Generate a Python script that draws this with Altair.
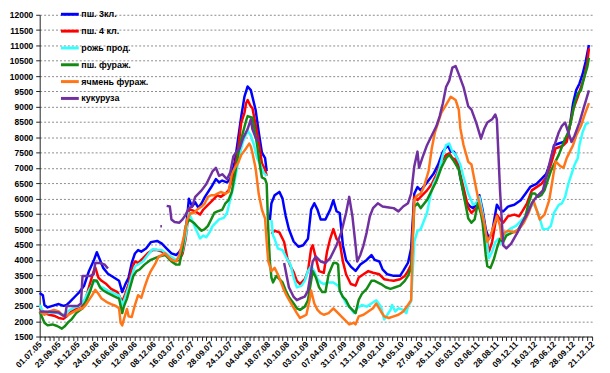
import json
import altair as alt
import pandas as pd

series_names = ["пш. 3кл.", "пш. 4 кл.", "рожь прод.", "пш. фураж.", "ячмень фураж.", "кукуруза"]
series_colors = ["#0000ff", "#ff0000", "#33ffff", "#138a13", "#ff7518", "#7030a0"]

x_labels = ["01.07.05", "23.09.05", "16.12.05", "24.03.06", "16.06.06", "12.09.06", "08.12.06",
            "16.03.07", "06.07.07", "28.09.07", "24.12.07", "04.04.08", "18.07.08", "10.10.08",
            "03.01.09", "07.04.09", "31.07.09", "13.11.09", "19.02.10", "14.05.10", "27.08.10",
            "26.11.10", "05.03.11", "03.06.11", "28.08.11", "09.12.11", "16.03.12", "29.06.12",
            "28.09.12", "21.12.12"]

y_ticks = list(range(1500, 12001, 500))

# week index (category position) and price; None marks a gap in the series
wheat3_x = [0, 2, 3, 5, 8, 12, 15, 17, 19, 22, 25, 28, 31, 34, 36, 38, 40, 43, 47, 50,
            52, 54, 56, 58, 60, 62, 64, 67, 70, 74, 77, 80, 83, 86, 88, 90, 92, 94, 96, 98,
            100, 102, 104, 108, 111, 113, 115, 118, 120, 123, 125, 127, 129, 131, 133, 134, 136, 138, 140, 142,
            143, None,
            145, 146, 148, 151, 153, 154, 155, 157, 160, 163, 166, 169, 171, 173, 175, 177, 180, 183, 185, 187,
            189, 191, 193, 196, 199, 202, 206, 209, 211, 214, 216, 219, 223, 227, 229, 232, 234, 236, 238, 240,
            244, 248, 251, 254, 257, 259, 261, 263, 265, 268, 271, 273, 275, 277, 279, 281, 283, 285, 288, 290,
            292, 295, 299, 303, 306, 309, 313, 316, 319, 322, 324, 327, 330, 332, 334, 336, 338, 340, 342, 344,
            346]
wheat3_y = [2920, 2850, 2530, 2450, 2500, 2560, 2500, 2530, 2630, 2790, 2950, 3160, 3630, 3970, 4250, 4000, 3740, 3550, 3420, 3320,
            2950, 3210, 3420, 3900, 4210, 4320, 4270, 4370, 4580, 4620, 4530, 4372, 4214, 4160, 4267, 4425, 4900, 6000, 5740, 5880,
            5700, 5850, 6050, 6370, 6640, 6530, 6590, 6530, 6640, 7220, 7950, 8690, 9330, 9660, 9540, 9330, 8900, 8170, 7500, 7320,
            6900, None,
            5300, 5850, 6110, 6220, 6000, 5700, 5430, 5000, 4600, 4430, 4480, 4690, 5640, 5850, 5640, 5320, 5320, 5640, 5950, 5590,
            5530, 4480, 4000, 3780, 3640, 3850, 4000, 4160, 4000, 3950, 3690, 3530, 3480, 3480, 3640, 3900, 4370, 6160, 6380, 6270,
            6530, 6800, 7110, 7530, 7740, 7530, 7530, 7320, 6690, 5950, 5750, 5690, 5800, 6110, 5640, 5000, 4690, 4900, 5800, 5640,
            5580, 5740, 5800, 5950, 6160, 6380, 6480, 6640, 6800, 7220, 7740, 7800, 7850, 7950, 8380, 9110, 9540, 9750, 10060, 10480,
            11010]

wheat4_x = [0, 3, 6, 9, 12, 15, 17, 20, 23, 27, 29, 31, 34, 35, 37, 39, 42, 45, 49, 52,
            54, 56, 58, 60, 62, 65, 68, 71, 74, 77, 80, 83, 86, 88, 90, 92, 94, 95, 98, 101,
            103, 106, 109, 112, 114, 117, 119, 121, 123, 125, 127, 129, 130, 131, 133, 134, 136, 138, 140, 142,
            143, None,
            146, 148, 151, 153, 154, 156, 158, 160, 162, 164, 167, 169, 171, 172, 174, 176, 179, 181, 183, 185,
            187, 189, 191, 193, 196, 199, 201, 204, 207, 210, 214, 217, 220, 223, 227, 230, 232, 234, 236, 238,
            240, 244, 247, 250, 253, 256, 258, 260, 262, 264, 267, 270, 272, 275, 277, 279, 281, 283, 285, 288,
            290, 292, 295, 299, 302, 304, 307, 310, 313, 316, 319, 322, 325, 328, 330, 332, 334, 336, 339, 341,
            343, 345, 346]
wheat4_y = [2420, 2264, 2211, 2180, 2106, 2075, 2158, 2317, 2422, 2528, 2738, 3107, 3634, 3760, 3424, 3318, 3213, 3055, 2949, 2633,
            2897, 3213, 3700, 3950, 3900, 4050, 4214, 4320, 4320, 4270, 4160, 4060, 3980, 4000, 4200, 4700, 5650, 5640, 5584, 5479,
            5637, 5795, 5953, 6111, 6058, 6164, 6269, 6585, 7007, 7639, 8482, 8800, 9115, 9220, 9009, 8957, 8430, 7850, 7150, 6950,
            6744, None,
            4850, 4952, 4900, 4690, 4584, 4060, 3793, 3600, 3318, 3213, 3371, 3635, 4373, 4478, 4057, 3635, 3582, 4267, 4690, 5005,
            4690, 4584, 3951, 3530, 3213, 3160, 3424, 3530, 3635, 3582, 3530, 3371, 3340, 3318, 3371, 3477, 3635, 3846, 6058, 5953,
            6058, 6269, 6480, 6796, 7217, 7428, 7480, 7322, 7270, 7007, 6350, 5700, 5532, 5690, 5953, 5426, 4795, 4267, 4584, 5479,
            5320, 5216, 5426, 5479, 5426, 5584, 5848, 6269, 6375, 6480, 6690, 7112, 7639, 7692, 7744, 7850, 8377, 8904, 9325, 9641,
            9957, 10450, 10900]

rye_x = [0, 2, 5, 8, 11, 14, 16, 19, 22, 25, 28, 31, 34, 36, 38, 40, 43, 47, 50, 52,
         54, 56, 58, 60, 62, 65, 68, 71, 74, 77, 81, 86, 88, 90, 92, 94, 96, 98, 101, 103,
         105, 107, 109, 111, 113, 116, 118, 120, 122, 124, 126, 128, 131, 133, 135, 137, 139, 141, 143, None,
         146, 147, 148, 150, 153, 155, 158, 160, 162, 165, 167, 169, 171, 173, 175, 177, 179, 182, 185, 188,
         190, 193, 196, 198, 200, 203, 206, 209, 212, 215, 217, 219, 221, 222, 224, 226, 229, 231, 232, 234,
         236, 238, 240, 244, 246, 248, 250, 252, 254, 256, 258, 260, 262, 265, 267, 270, 273, 275, 277, 279,
         281, 283, 285, 287, 289, 291, 293, 296, 300, 303, 306, 308, 311, 314, 317, 320, 322, 324, 327, 329,
         331, 333, 335, 337, 339, 340, 342, 344, 346]
rye_y = [2528, 2317, 2264, 2285, 2264, 2211, 2243, 2370, 2454, 2496, 2686, 3002, 3265, 3318, 3128, 3086, 3002, 2897, 2844, 2528,
         2791, 3107, 3476, 3793, 3850, 3950, 4150, 4350, 4330, 4320, 4161, 4004, 4050, 4300, 4800, 5532, 5300, 5050, 4700, 4795,
         4742, 4900, 5110, 5216, 5321, 5374, 5532, 5953, 6374, 6901, 7428, 7850, 8219, 8060, 7744, 7323, 7112, 6850, 6744, None,
         5300, 4795, 4690, 4373, 4320, 4109, 3846, 3424, 3108, 3160, 3318, 3635, 3793, 3635, 3371, 3266, 3213, 3266, 3266, 3160,
         2897, 2580, 2400, 2264, 2422, 2528, 2475, 2580, 2686, 2475, 2054, 2212, 2370, 2528, 2317, 2422, 2370, 2264, 2475, 2650,
         4600, 4950, 5000, 5532, 6058, 6480, 6690, 7007, 7428, 7744, 7797, 7533, 7428, 7112, 6700, 6160, 5800, 5848, 6058, 5532,
         4795, 4056, 4267, 4584, 4690, 4530, 4795, 5005, 5110, 5268, 5426, 5637, 5848, 5532, 5005, 5005, 5110, 5532, 5795, 5848,
         6058, 6480, 6796, 7112, 7323, 7744, 8166, 8430, 8482]

feed_x = [0, 3, 5, 8, 11, 14, 16, 18, 20, 23, 27, 29, 32, 34, 36, 38, 40, 43, 47, 50,
          52, 53, 55, 57, 59, 61, 63, 66, 70, 75, 79, 83, 86, 88, 90, 92, 94, 97, 100, 102,
          104, 106, 108, 110, 112, 115, 117, 119, 121, 123, 125, 127, 130, 131, 134, 135, 137, 139, 140, 142,
          143, 144, 145, 146, 147, 149, 151, 153, 155, 157, 160, 162, 164, 167, 169, 171, 172, 174, 176, 178,
          180, 182, 185, 187, 188, 189, 191, 193, 195, 197, 199, 201, 203, 206, 209, 211, 215, 218, 221, 224,
          227, 230, 232, 234, 236, 238, 240, 244, 247, 250, 253, 256, 258, 261, 264, 267, 270, 272, 274, 276,
          278, 279, 281, 282, 284, 286, 288, 290, 292, 294, 298, 301, 304, 306, 308, 310, 312, 314, 316, 318,
          320, 322, 324, 327, 329, 331, 333, 335, 337, 339, 341, 343, 345, 346]
feed_y = [2317, 1948, 1864, 1895, 1843, 1758, 1843, 1969, 2053, 2264, 2422, 2633, 3002, 3339, 3318, 3107, 3002, 2918, 2812, 2738,
          2264, 2475, 2738, 3107, 3476, 3634, 3688, 3846, 4004, 4109, 4161, 3951, 3846, 3846, 4372, 5110, 5321, 5216, 5050, 4952,
          5005, 5110, 5321, 5532, 5584, 5637, 5848, 5953, 6216, 6796, 7428, 7955, 8535, 8693, 8640, 8377, 7744, 7000, 6691, 6638,
          6480, 5005, 3951, 3424, 3266, 3477, 3371, 3266, 3002, 2791, 2580, 2422, 2370, 2475, 2686, 3318, 3635, 3424, 3108, 2950,
          2950, 3530, 3898, 3898, 3846, 3002, 2791, 2686, 2475, 2370, 2264, 2700, 2896, 3055, 3318, 3318, 3213, 3108, 3055, 3108,
          3160, 3318, 3477, 3740, 5743, 5848, 5690, 5953, 6269, 6585, 7007, 7322, 7428, 7217, 6954, 6150, 5350, 5216, 5320, 5848,
          5500, 5216, 4162, 3793, 3740, 4004, 4373, 4690, 4584, 4795, 4900, 4952, 5216, 5426, 5848, 6164, 6164, 6058, 6111, 6269,
          6585, 6902, 7112, 7428, 7692, 7955, 8166, 8588, 9115, 9430, 9536, 9957, 10300, 10600]

barley_x = [0, 3, 6, 9, 12, 15, 17, 20, 23, 27, 29, 31, 33, 35, 37, 39, 42, 45, 48, 50,
            51, 52, 53, 55, 56, 58, 60, 62, 64, 66, 68, 70, 73, 75, 79, 81, 83, 86, 88, 89,
            91, 93, 95, 97, 99, 102, 104, 106, 108, 110, 112, 114, 117, 119, 121, 123, 125, 127, 130, 132,
            133, 134, 136, 138, 140, 142, 143, 144, 146, 148, 150, 152, 154, 156, 159, 162, 164, 166, 168, 170,
            171, 173, 175, 177, 179, 182, 185, 188, 190, 193, 195, 198, 199, 201, 204, 207, 210, 212, 215, 217,
            220, 223, 226, 229, 232, 234, 235, 236, 238, 240, 242, 245, 247, 249, 251, 253, 256, 259, 262, 264,
            265, 267, 270, 272, 274, 276, 278, 280, 282, 284, 286, 288, 290, 291, 293, 295, 299, 302, 305, 308,
            311, 313, 315, 318, 321, 323, 325, 328, 330, 332, 334, 336, 338, 341, 343, 346]
barley_y = [2317, 2211, 2317, 2370, 2317, 2158, 2180, 2264, 2349, 2422, 2528, 2686, 2844, 3023, 2897, 2738, 2633, 2560, 2496, 2422,
            1948, 1864, 2053, 2400, 2158, 2137, 2528, 2850, 2760, 3100, 3400, 3635, 3898, 4109, 4214, 4109, 4004, 3951, 4161, 4372,
            4794, 5321, 5532, 5530, 5637, 5742, 5847, 6058, 6110, 6110, 6163, 6216, 6163, 6216, 6796, 7007, 7164, 7428, 7639, 7797,
            7700, 7500, 7000, 6150, 5637, 5350, 4584, 3951, 3635, 3740, 3530, 3266, 3002, 2791, 2528, 2264, 2106, 2158, 2211, 2686,
            3002, 2580, 2370, 2264, 2211, 2264, 2422, 2264, 2158, 2000, 1896, 1948, 1896, 2159, 2211, 2317, 2422, 2580, 2317, 2159,
            2106, 2159, 2211, 2317, 2528, 2686, 4583, 5953, 6111, 6164, 6375, 6902, 7639, 8166, 8482, 8799, 9062, 9326, 9220, 8904,
            8300, 7750, 7200, 7112, 6585, 6058, 5637, 5216, 4584, 4795, 5110, 5426, 5110, 4690, 4900, 4952, 4900, 5005, 5216, 5532,
            5953, 5637, 5320, 5479, 5953, 6585, 7217, 7059, 7007, 7323, 7534, 7744, 8060, 8377, 8693, 9115]

corn_x = [0, 6, 12, 14, 16, 17, 20, 24, 26, 27, 29, 32, 34, 35, 38, 41, 43, None,
          76, 77, None,
          80, 82, 83, 85, 88, 90, 92, 94, 96, 98, 102, 105, 107, 109, 111, 113, 115, 118, 120, 122,
          124, 126, 128, 131, 133, 134, 136, 138, None,
          154, 155, 157, 160, 162, 164, 167, 169, 170, 172, 174, 177, 180, 183, 187, 190, 193, 195, 197, 199,
          200, 202, 204, 206, 208, 210, 213, 216, 220, 223, 226, 229, 232, 234, 236, 238, 239, 241, 244, 247,
          250, 252, 254, 256, 258, 260, 262, 264, 267, 270, 272, 275, 278, 280, 282, 285, 287, 288, 290, 292,
          294, 297, 301, 304, 307, 310, 313, 317, 320, 323, 327, 329, 331, 333, 335, 337, 340, 343, 346]
corn_y = [2317, 2306, 2285, 2211, 2158, 2496, 2496, 2496, 2580, 3476, 3476, 3476, 3529, 3898, 3898, 3845, 3719, None,
          5100, 5100, None,
          5763, 5742, 5320, 5236, 5215, 5321, 5479, 5690, 5742, 6058, 6269, 6480, 6690, 6901, 7007, 6743, 6796, 6638, 6849, 7375,
          7534, 7639, 7955, 8271, 8588, 8271, 8000, 7850, None,
          3898, 3635, 3108, 2791, 2686, 2740, 2800, 3000, 3318, 3950, 4110, 3950, 3900, 4057, 4478, 4900, 5532, 6058, 5426, 4478,
          3951, 4162, 4478, 4900, 5426, 5690, 5848, 5743, 5711, 5690, 5584, 5743, 5848, 6164, 7060, 7534, 7007, 7322, 7744, 8060,
          8377, 8693, 9114, 9641, 9852, 10274, 10327, 10063, 9641, 9009, 8904, 8482, 7955, 8271, 8482, 8588, 8746, 8588, 6269, 4478,
          4373, 4530, 4900, 5216, 5479, 5848, 6058, 6269, 6902, 7534, 8166, 8377, 8482, 8166, 7850, 8060, 8482, 9009, 9536]

all_x = [wheat3_x, wheat4_x, rye_x, feed_x, barley_x, corn_x]
all_y = [wheat3_y, wheat4_y, rye_y, feed_y, barley_y, corn_y]

rows = []
for name, xs, ys in zip(series_names, all_x, all_y):
    seg = 0
    for xv, yv in zip(xs, ys):
        if xv is None or yv is None:
            seg += 1
            continue
        rows.append({"series": name, "seg": f"{name}-{seg}", "week": xv, "price": yv})
df = pd.DataFrame(rows)

FONT = "Liberation Sans"
label_expr = f"datum.value % 12 === 0 ? {json.dumps(x_labels)}[datum.value / 12] : ''"

x_enc = alt.X(
    "week:Q",
    scale=alt.Scale(domain=[0, 348], nice=False, zero=False),
    axis=alt.Axis(
        values=list(range(0, 349, 3)),
        labelExpr=label_expr,
        labelAngle=-45,
        labelAlign="right",
        labelBaseline="middle",
        labelOverlap=False,
        labelFlush=False,
        labelBound=False,
        labelPadding=2,
        tickSize=4,
        grid=False,
        title=None,
    ),
)
y_enc = alt.Y(
    "price:Q",
    scale=alt.Scale(domain=[1500, 12000], nice=False, zero=False),
    axis=alt.Axis(
        values=y_ticks,
        format="d",
        grid=True,
        gridDash=[2, 2],
        gridColor="#8c8c8c",
        gridWidth=1,
        tickSize=4,
        labelPadding=3,
        title=None,
    ),
)
color_enc = alt.Color(
    "series:N",
    scale=alt.Scale(domain=series_names, range=series_colors),
    legend=alt.Legend(
        orient="none",
        legendX=20,
        legendY=-11,
        title=None,
        symbolType="stroke",
        symbolStrokeWidth=3,
        symbolSize=324,
        labelFont=FONT,
        labelFontSize=9,
        labelFontWeight="bold",
        labelColor="#000000",
        labelOffset=1,
        rowPadding=-3,
        padding=0,
        direction="vertical",
    ),
)

layers = []
for name in series_names:
    layers.append(
        alt.Chart()
        .mark_line(strokeWidth=2.5, strokeJoin="round")
        .encode(x=x_enc, y=y_enc, color=color_enc, detail="seg:N")
        .transform_filter(alt.datum.series == name)
    )

chart = (
    alt.layer(*layers, data=df)
    .properties(
        width=558,
        height=325,
        autosize=alt.AutoSizeParams(type="none"),
        padding={"left": 32, "top": 5, "right": 10, "bottom": 35},
        background="#ffffff",
    )
    .configure_view(stroke=None)
    .configure_axis(
        labelFont=FONT,
        labelFontSize=8.5,
        labelFontWeight="bold",
        labelColor="#000000",
        domainColor="#222222",
        tickColor="#222222",
    )
)

chart.save("out.html", embed_options={"renderer": "svg", "actions": False})
